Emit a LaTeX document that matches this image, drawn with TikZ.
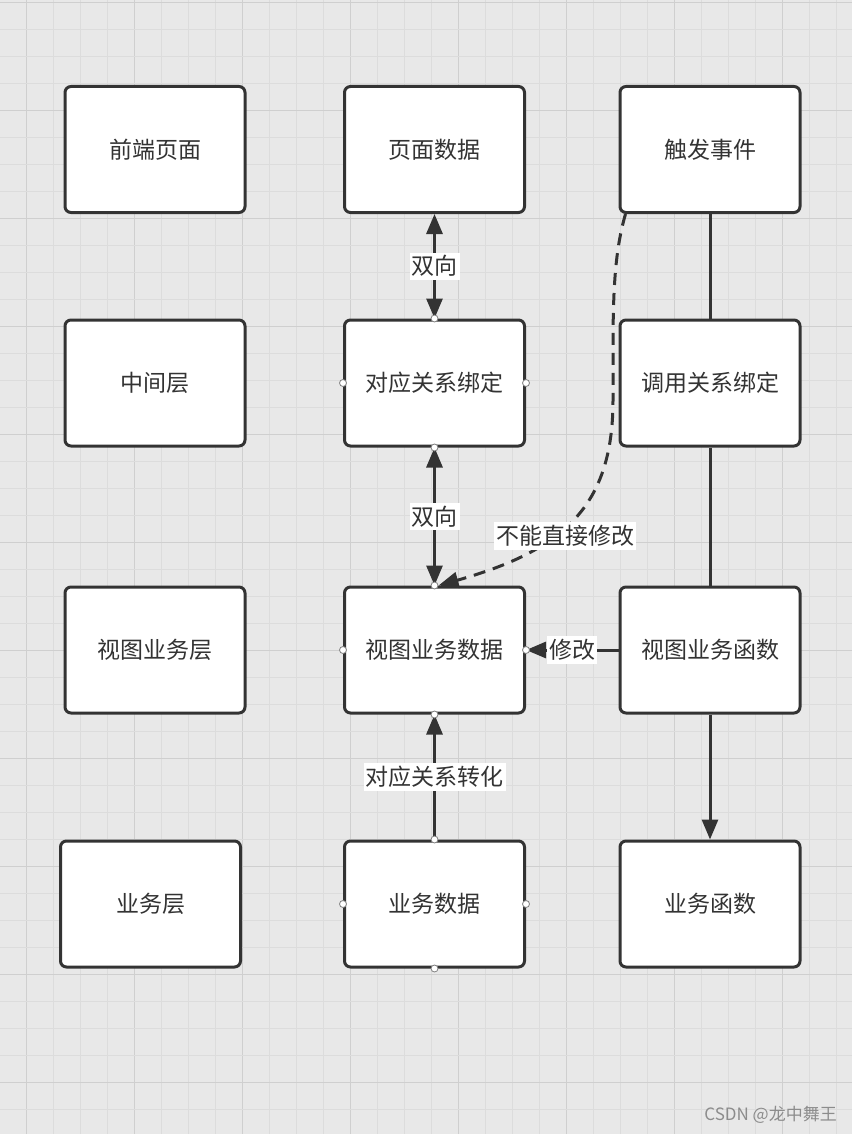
\documentclass[tikz,border=0pt]{standalone}
\usepackage{fontspec}
\setmainfont{Noto Sans CJK SC}
\usetikzlibrary{arrows.meta}
\definecolor{bgc}{RGB}{232,232,232}
\definecolor{gmin}{RGB}{220,220,220}
\definecolor{gmaj}{RGB}{207,207,207}
\definecolor{ink}{RGB}{51,51,51}
\definecolor{txt}{RGB}{51,51,51}
\definecolor{wmc}{RGB}{140,140,140}
\begin{document}
\begin{tikzpicture}[x=1pt,y=-1pt,
  box/.style={draw=ink, line width=3pt, fill=white, rounded corners=6pt,
    minimum width=180pt, minimum height=126pt, inner sep=0pt, text=txt,
    font=\fontsize{23}{27}\selectfont},
  conn/.style={draw=ink, line width=3pt},
  >={Triangle[length=20pt,width=16pt]},
  lbl/.style={fill=white, inner xsep=2pt, inner ysep=3pt, text=txt, font=\fontsize{23}{27}\selectfont},
  handle/.style={circle, draw=gray, fill=white, line width=0.8pt,
    minimum size=7pt, inner sep=0pt}
]
\useasboundingbox (0,0) rectangle (852,1134);
\fill[bgc] (0,0) rectangle (852,1134);
% grid
\foreach \i in {0,...,31}{
  \pgfmathsetmacro{\xx}{27*\i-0.3}
  \pgfmathtruncatemacro{\mm}{mod(\i,4)}
  \ifnum\mm=1
    \draw[gmaj, line width=1pt] (\xx,0) -- (\xx,1134);
  \else
    \draw[gmin, line width=1pt] (\xx,0) -- (\xx,1134);
  \fi
}
\foreach \j in {0,...,42}{
  \pgfmathsetmacro{\yy}{27*\j+2.3}
  \pgfmathtruncatemacro{\mm}{mod(\j,4)}
  \ifnum\mm=0
    \draw[gmaj, line width=1pt] (0,\yy) -- (852,\yy);
  \else
    \draw[gmin, line width=1pt] (0,\yy) -- (852,\yy);
  \fi
}
% boxes
\node[box] (a1) at (155,149.5) {前端页面};
\node[box] (a2) at (155,383) {中间层};
\node[box] (a3) at (155,650) {视图业务层};
\node[box] (a4) at (150.5,904) {业务层};
\node[box] (d1) at (434.5,149.5) {页面数据};
\node[box] (b1) at (434.5,383) {对应关系绑定};
\node[box] (v2) at (434.5,650) {视图业务数据};
\node[box] (s4) at (434.5,904) {业务数据};
\node[box] (t1) at (710,149.5) {触发事件};
\node[box] (c2) at (710,383) {调用关系绑定};
\node[box] (f3) at (710,650) {视图业务函数};
\node[box] (g4) at (710,904) {业务函数};
% connectors
\draw[conn,<->] (d1.south) -- node[lbl] (l1) {双向} (b1.north);
\draw[conn,<->] (b1.south) -- node[lbl] (l2) {双向} (v2.north);
\draw[conn] (t1.south) -- (c2.north);
\draw[conn] (c2.south) -- (f3.north);
\draw[conn,->] (f3.south) -- (g4.north);
\draw[conn,->] (f3.west) -- node[lbl] (l3) {修改} (v2.east);
\draw[conn,->] (s4.north) -- node[lbl] (l4) {对应关系转化} (v2.south);
\draw[conn,->,dash pattern=on 12pt off 8pt]
  ([xshift=7pt]t1.south west) .. controls (615,250) and (613,290) .. (613,350)
  -- (613,400) .. controls (613,505) and (565,550) .. ([xshift=4pt]v2.north);
\node[lbl] (l5) at (565,536) {不能直接修改};
% handles
\foreach \n in {b1,v2,s4}{
  \foreach \a in {north,south,east,west}{
    \node[handle] (h-\n-\a) at (\n.\a) {};
  }
}
% watermark
\node[anchor=east, text=wmc, inner sep=0pt, font=\fontsize{17}{20}\selectfont] (wm) at (837,1115) {CSDN @龙中舞王};
\end{tikzpicture}
\end{document}
